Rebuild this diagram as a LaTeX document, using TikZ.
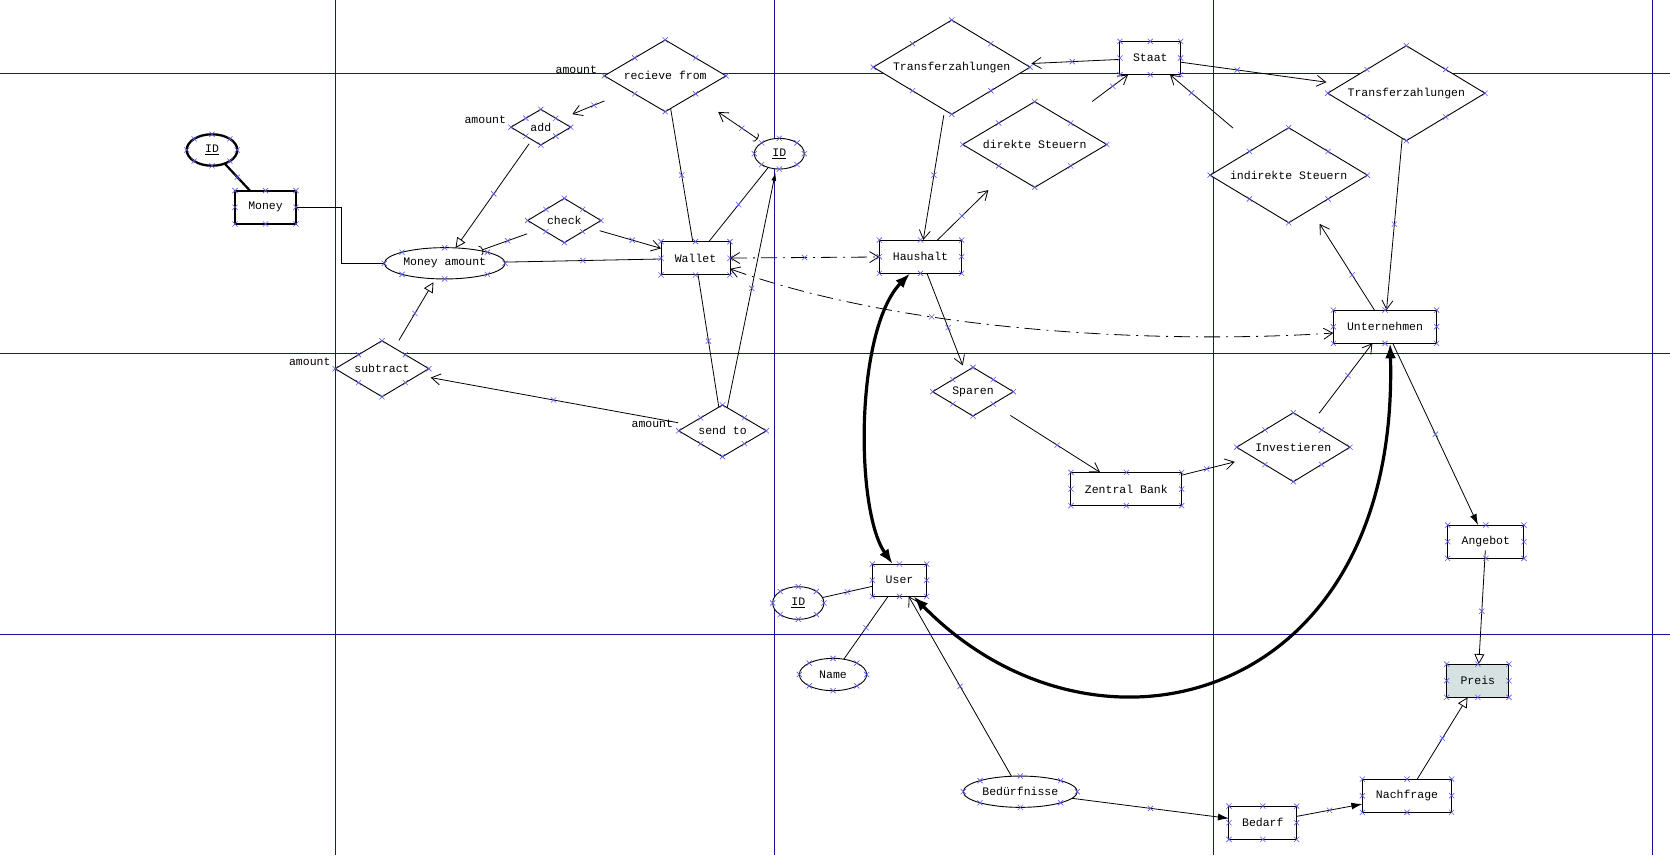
\documentclass[tikz,border=0pt]{standalone}
\usepackage{fontspec}
\setmonofont{Liberation Mono}
\usetikzlibrary{arrows.meta,shapes.geometric,calc}
\definecolor{gridc}{RGB}{20,20,150}
\definecolor{hxc}{RGB}{90,90,230}
\definecolor{preisc}{RGB}{214,226,226}
\tikzset{
  ob/.tip={Straight Barb[length=9pt,width=11pt,line width=0.8pt]},
  ot/.tip={Triangle[open,length=10pt,width=10pt,fill=white,line width=0.8pt]},
  ft/.tip={Latex[length=11pt,width=7pt]},
  fs/.tip={Latex[length=8pt,width=5pt]},
  bt/.tip={Latex[length=15pt,width=11pt]},
  cap/.tip={Arc Barb[length=3pt,width=10pt,line width=0.8pt]},
  hxs/.style={draw=hxc, line width=0.6pt},
  hx/.pic={\draw[hxs] (-2.6,-2.6) -- (2.6,2.6) (-2.6,2.6) -- (2.6,-2.6);},
}
\begin{document}
\begin{tikzpicture}[x=1pt,y=-1pt,
  every node/.style={font=\ttfamily\fontsize{11.5}{13}\selectfont, inner sep=0pt, outer sep=0pt},
  box/.style={draw, line width=1pt, fill=white, rectangle, minimum width=#1, minimum height=33.3},
  dia/.style={draw, line width=0.9pt, fill=white, diamond, aspect=1.7},
  ell/.style={draw, line width=0.9pt, fill=white, ellipse},
  con/.style={line width=0.8pt},
  dd/.style={con, dash pattern=on 16pt off 6pt on 2pt off 6pt, ob-ob},
  big/.style={line width=3.2pt, bt-bt},
  gridline/.style={draw=gridc, line width=1.2pt},
]
\useasboundingbox[fill=white] (0,0) rectangle (1670,855);
% grid lines
\draw[gridline] (335.3,0) -- (335.3,855);
\draw[gridline] (774.3,0) -- (774.3,855);
\draw[gridline] (1213.3,0) -- (1213.3,855);
\draw[gridline] (1652.7,0) -- (1652.7,855);
\draw[gridline] (0,73.3) -- (1670,73.3);
\draw[gridline] (0,353.3) -- (1670,353.3);
\draw[gridline] (0,634.3) -- (1670,634.3);

% rectangles
\node[box=61, line width=2.3pt] (Money) at (265.5,207.3) {Money};
\node[box=69] (Wallet) at (695.5,258.3) {Wallet};
\node[box=82.3] (Haushalt) at (920.5,256.7) {Haushalt};
\node[box=60.7] (Staat) at (1150.3,58) {Staat};
\node[box=103.3] (Unternehmen) at (1385,326.7) {Unternehmen};
\node[box=110.7] (ZB) at (1126.3,489) {Zentral Bank};
\node[box=54.3, minimum height=32.3] (User) at (899.5,580.2) {User};
\node[box=76.3] (Angebot) at (1485.8,541.7) {Angebot};
\node[box=62.3, fill=preisc] (Preis) at (1477.8,680.7) {Preis};
\node[box=89.3] (Nachfrage) at (1407,795.7) {Nachfrage};
\node[box=67.7] (Bedarf) at (1262.8,822.7) {Bedarf};

% diamonds
\node[dia, minimum width=121.7, minimum height=71.7] (rf) at (665.2,75.8) {recieve from};
\node[dia, minimum width=59.7, minimum height=35.7] (add) at (540.8,127.2) {add};
\node[dia, minimum width=73.3, minimum height=44.3] (check) at (564.3,220.5) {check};
\node[dia, minimum width=93.7, minimum height=56] (subtract) at (382,368.7) {subtract};
\node[dia, minimum width=87.7, minimum height=51.7] (sendto) at (722.5,430.8) {send to};
\node[dia, minimum width=156.7, minimum height=94.3] (TZL) at (951.7,67.2) {Transferzahlungen};
\node[dia, minimum width=144, minimum height=85.7] (DS) at (1034.7,144.5) {direkte Steuern};
\node[dia, minimum width=157.3, minimum height=95] (TZR) at (1406.3,93.2) {Transferzahlungen};
\node[dia, minimum width=157.3, minimum height=95] (IS) at (1288.7,175.2) {indirekte Steuern};
\node[dia, minimum width=80.7, minimum height=48.7] (Sparen) at (973,391.7) {Sparen};
\node[dia, minimum width=113.3, minimum height=69] (Inv) at (1293.3,447.2) {Investieren};

% ellipses
\node[ell, line width=2.3pt, minimum width=50.6, minimum height=31.4] (IDm) at (212,150) {\underline{ID}};
\node[ell, minimum width=120.7, minimum height=31.3] (MA) at (444.7,263.3) {Money amount};
\node[ell, minimum width=50, minimum height=30.7] (IDw) at (779.3,153.7) {\underline{ID}};
\node[ell, minimum width=51.3, minimum height=32.7] (IDu) at (798.3,603) {\underline{ID}};
\node[ell, minimum width=67.3, minimum height=32.3] (Name) at (833,674.5) {Name};
\node[ell, minimum width=114, minimum height=31.3] (Bed) at (1020.3,791.7) {Bedürfnisse};

% labels
\node[anchor=east] (am1) at (506,120) {amount};
\node[anchor=east] (am2) at (597,69.3) {amount};
\node[anchor=east] (am3) at (330.5,361.7) {amount};
\node[anchor=east] (am4) at (673,423.3) {amount};

% connectors
\draw[con, line width=2.2pt] (IDm) -- coordinate[pos=.5](m1) (Money);
\draw[con] (Money.east) -- ++(45.7,0) |- (MA.west);
\draw[con, -ot, shorten <=5pt] (add) -- coordinate[pos=.5](m2) (MA);
\draw[con, -{Arc Barb[reversed,length=3pt,width=10pt,line width=0.8pt]}, shorten <=15pt] (check) -- coordinate[pos=.55](m3) (MA);
\draw[con, -ob, shorten <=11pt] (check) -- coordinate[pos=.6](m4) (Wallet);
\draw[con] (MA) -- coordinate[pos=.5](m5) (Wallet);
\draw[con, -ob, shorten <=27pt, shorten >=15pt] (rf) -- coordinate[pos=.5](m6) (add);
\draw[con] (rf) -- coordinate[pos=.5](m7) (Wallet);
\draw[con, cap-ob, shorten <=6pt, shorten >=30pt] (IDw) -- coordinate[pos=.3](m8) (rf);
\draw[con] (Wallet) -- coordinate[pos=.5](m9) (IDw);
\draw[con] (Wallet) -- coordinate[pos=.5](m10) (sendto);
\draw[con, -fs, shorten >=4pt] (sendto) -- coordinate[pos=.5](m11) (IDw);
\draw[con, -ob, shorten <=11pt, shorten >=13pt] (sendto) -- coordinate[pos=.5](m12) (subtract);
\draw[con, -ot, shorten <=9pt, shorten >=4pt] (subtract) -- coordinate[pos=.5](m13) (MA);
\draw[con, -ob, shorten >=7pt] (Staat) -- coordinate[pos=.5](m14) (TZL);
\draw[con, -ob, shorten >=16pt] (Staat) -- coordinate[pos=.35](m15) (TZR);
\draw[con, -ob, shorten <=32pt] (DS) -- coordinate[pos=.75](m16) (Staat);
\draw[con, -ob, shorten <=30pt] (IS) -- coordinate[pos=.75](m17) (Staat);
\draw[con, -ob, shorten <=5pt] (TZL) -- coordinate[pos=.5](m18) (Haushalt);
\draw[con, -ob, shorten >=27pt] (Haushalt) -- coordinate[pos=.35](m19) (DS);
\draw[dd] (Wallet) -- coordinate[pos=.5](m20) (Haushalt);
\draw[dd] (Wallet.-17.2) .. controls (900,330) and (1150,345) .. coordinate[pos=.35](m21) (Unternehmen.187);
\draw[big] (Haushalt.238) .. controls (855,330) and (855,510) .. (User.113);
\draw[big] (Unternehmen.-73.5) .. controls (1400,705) and (1095,782) .. (User.-49.4);
\draw[con, -ob, shorten >=7pt] (Haushalt) -- coordinate[pos=.55](m22) (Sparen);
\draw[con, -ob, shorten <=21pt] (Sparen) -- coordinate[pos=.6](m23) (ZB);
\draw[con, -ob, shorten >=19pt] (ZB) -- coordinate[pos=.35](m24) (Inv);
\draw[con, -ob, shorten <=13pt] (Inv) -- coordinate[pos=.6](m25) (Unternehmen);
\draw[con, -ob] (TZR) -- coordinate[pos=.5](m26) (Unternehmen);
\draw[con, -ob, shorten >=17pt] (Unternehmen) -- coordinate[pos=.35](m27) (IS);
\draw[con, -ft] (Unternehmen) -- coordinate[pos=.5](m28) (Angebot);
\draw[con, -ot, shorten <=-8pt] (Angebot) -- coordinate[pos=.5](m29) (Preis);
\draw[con, -ot] (Nachfrage) -- coordinate[pos=.5](m30) (Preis);
\draw[con, -ft] (Bed) -- coordinate[pos=.5](m31) (Bedarf);
\draw[con, -ft] (Bedarf) -- coordinate[pos=.5](m32) (Nachfrage);
\draw[con, -ob] (Bed) -- coordinate[pos=.5](m33) (User);
\draw[con] (User) -- coordinate[pos=.5](m34) (IDu);
\draw[con] (User) -- coordinate[pos=.5](m35) (Name);

% selection handles
\foreach \i in {1,...,35} {\path (m\i) pic{hx};}
\foreach \n in {Money,Wallet,Haushalt,Staat,Unternehmen,ZB,User,Angebot,Preis,Nachfrage,Bedarf} {
  \foreach \a in {north west,north,north east,east,south east,south,south west,west} {\path (\n.\a) pic{hx};}
}
\foreach \n in {rf,add,check,subtract,sendto,TZL,DS,TZR,IS,Sparen,Inv} {
  \foreach \a in {north,east,south,west} {\path (\n.\a) pic{hx};}
  \path ($(\n.north)!.5!(\n.east)$) pic{hx} ($(\n.east)!.5!(\n.south)$) pic{hx}
        ($(\n.south)!.5!(\n.west)$) pic{hx} ($(\n.west)!.5!(\n.north)$) pic{hx};
}
\foreach \n in {IDm,MA,IDw,IDu,Name,Bed} {
  \foreach \a in {north west,north,north east,east,south east,south,south west,west} {\path (\n.\a) pic{hx};}
}
\end{tikzpicture}
\end{document}
